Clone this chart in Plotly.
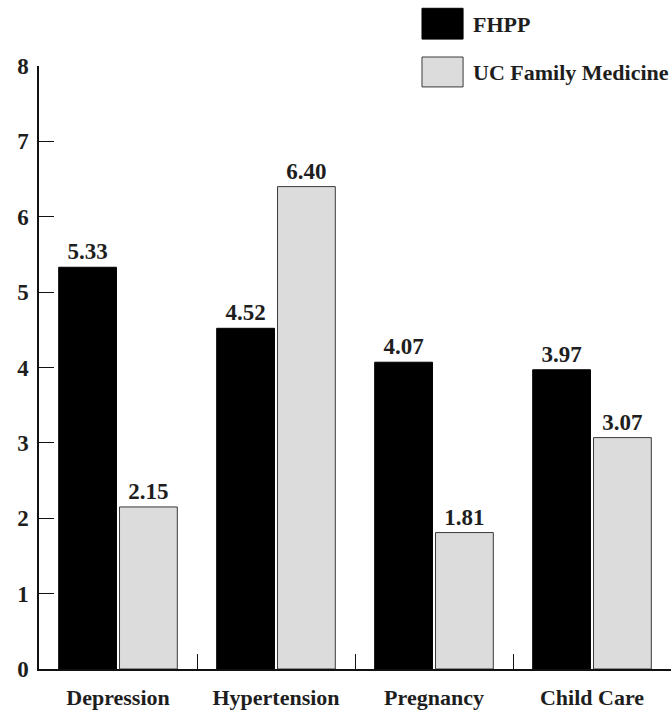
import plotly.graph_objects as go

categories = ["Depression", "Hypertension", "Pregnancy", "Child Care"]
fhpp = [5.33, 4.52, 4.07, 3.97]
uc_family_medicine = [2.15, 6.40, 1.81, 3.07]
series_names = ["FHPP", "UC Family Medicine"]
y_ticks = [0, 1, 2, 3, 4, 5, 6, 7, 8]

FONT = "Liberation Serif"
fill_colors = ["#000000", "#dcdcdc"]
line_colors = ["#000000", "#3a3a3a"]

fig = go.Figure()
for name, vals, fc, lc in zip(series_names, [fhpp, uc_family_medicine], fill_colors, line_colors):
    fig.add_trace(go.Bar(
        x=categories, y=vals, name=name,
        marker=dict(color=fc, line=dict(color=lc, width=1)),
        text=[f"{v:.2f}" for v in vals],
        textposition="outside",
        cliponaxis=False,
        textfont=dict(family=FONT, size=23, color="#1e1e1e", weight="bold"),
        showlegend=False,
    ))

# Legend drawn as boxes with labels above the plot area
legend_rows = [(1.0957, 1.0446, 1.0693), (1.0149, 0.9653, 0.990)]
for (top, bottom, mid), name, fc, lc in zip(legend_rows, series_names, fill_colors, line_colors):
    fig.add_shape(type="rect", xref="paper", yref="paper",
                  x0=0.606, x1=0.671, y0=bottom, y1=top,
                  fillcolor=fc, line=dict(color=lc, width=1))
    fig.add_annotation(xref="paper", yref="paper", x=0.684, y=mid,
                       xanchor="left", yanchor="middle", showarrow=False,
                       text=name,
                       font=dict(family=FONT, size=22, color="#1e1e1e", weight="bold"))

fig.update_layout(
    width=671, height=710,
    margin=dict(l=39, r=0, t=66, b=38),
    plot_bgcolor="white", paper_bgcolor="white",
    barmode="group", bargap=0.23, bargroupgap=0.05,
    font=dict(family=FONT, size=22, color="#1e1e1e", weight="bold"),
)
fig.update_xaxes(
    range=[-0.5, 3.5],
    showline=True, linecolor="#111111", linewidth=1.5,
    ticks="inside", tickson="boundaries", ticklen=15, tickcolor="#111111", tickwidth=1.2,
    showgrid=False, zeroline=False,
    tickfont=dict(family=FONT, size=22, color="#1e1e1e", weight="bold"),
    ticklabelstandoff=8,
)
fig.update_yaxes(
    range=[0, 8], tickvals=y_ticks,
    showline=True, linecolor="#111111", linewidth=1.5,
    ticks="inside", ticklen=15, tickcolor="#111111", tickwidth=1.2,
    showgrid=False, zeroline=False,
    tickfont=dict(family=FONT, size=23, color="#1e1e1e", weight="bold"),
    ticklabelstandoff=4,
)

fig.write_html("out.html")
